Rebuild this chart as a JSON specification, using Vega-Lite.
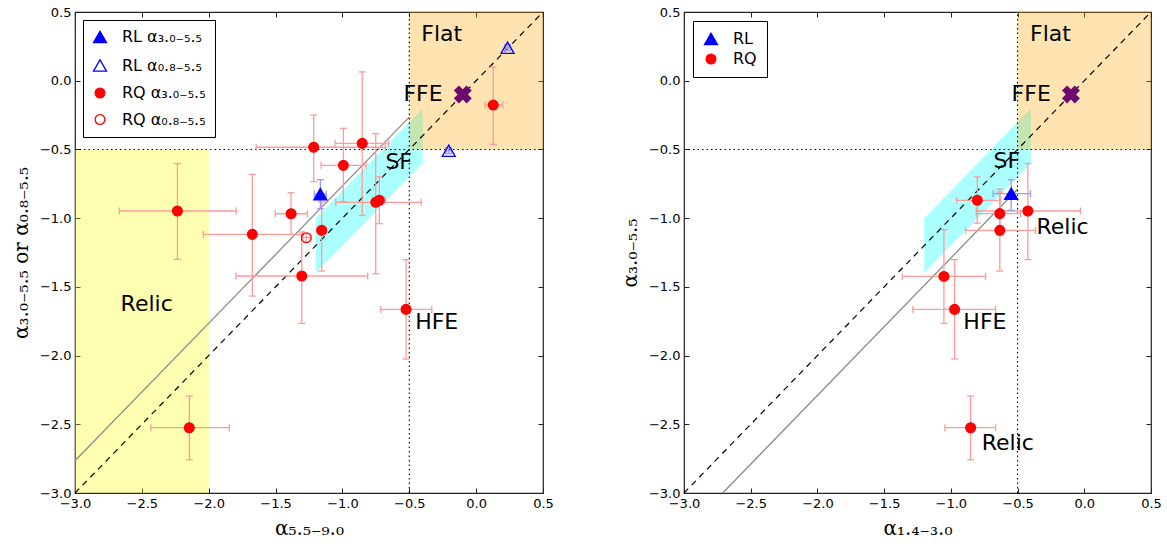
{
"$schema":"https://vega.github.io/schema/vega-lite/v6.json",
"background":"white",
"padding":{"left":10,"top":5,"right":5,"bottom":5},
"spacing":65,
"datasets":{
"pts":[
{"panel":"L","series":"RL α₃.₀₋₅.₅","grp":"RL","x":-1.165,"y":-0.825,"xlo":-1.21,"xhi":-1.12,"ylo":-0.93,"yhi":-0.72},
{"panel":"L","series":"RL α₀.₈₋₅.₅","grp":"RL","x":0.235,"y":0.24,"xlo":0.215,"xhi":0.255,"ylo":0.22,"yhi":0.26},
{"panel":"L","series":"RL α₀.₈₋₅.₅","grp":"RL","x":-0.205,"y":-0.51,"xlo":-0.225,"xhi":-0.185,"ylo":-0.53,"yhi":-0.49},
{"panel":"L","series":"RQ α₃.₀₋₅.₅","grp":"RQ","x":-2.234,"y":-0.948,"xlo":-2.668,"xhi":-1.795,"ylo":-1.3,"yhi":-0.603},
{"panel":"L","series":"RQ α₃.₀₋₅.₅","grp":"RQ","x":-1.674,"y":-1.118,"xlo":-2.04,"xhi":-1.293,"ylo":-1.567,"yhi":-0.681},
{"panel":"L","series":"RQ α₃.₀₋₅.₅","grp":"RQ","x":-1.384,"y":-0.968,"xlo":-1.502,"xhi":-1.262,"ylo":-1.12,"yhi":-0.815},
{"panel":"L","series":"RQ α₃.₀₋₅.₅","grp":"RQ","x":-1.215,"y":-0.484,"xlo":-1.645,"xhi":-0.68,"ylo":-0.735,"yhi":-0.25},
{"panel":"L","series":"RQ α₃.₀₋₅.₅","grp":"RQ","x":-0.993,"y":-0.616,"xlo":-1.16,"xhi":-0.822,"ylo":-0.88,"yhi":-0.347},
{"panel":"L","series":"RQ α₃.₀₋₅.₅","grp":"RQ","x":-0.852,"y":-0.456,"xlo":-1.055,"xhi":-0.655,"ylo":-0.98,"yhi":0.064},
{"panel":"L","series":"RQ α₃.₀₋₅.₅","grp":"RQ","x":-0.751,"y":-0.885,"xlo":-1.05,"xhi":-0.41,"ylo":-1.404,"yhi":-0.385},
{"panel":"L","series":"RQ α₃.₀₋₅.₅","grp":"RQ","x":-0.724,"y":-0.87,"xlo":-0.77,"xhi":-0.68,"ylo":-1.04,"yhi":-0.7},
{"panel":"L","series":"RQ α₃.₀₋₅.₅","grp":"RQ","x":-1.155,"y":-1.089,"xlo":-1.19,"xhi":-1.12,"ylo":-1.385,"yhi":-0.883},
{"panel":"L","series":"RQ α₃.₀₋₅.₅","grp":"RQ","x":-1.304,"y":-1.421,"xlo":-1.796,"xhi":-0.811,"ylo":-1.766,"yhi":-1.101},
{"panel":"L","series":"RQ α₃.₀₋₅.₅","grp":"RQ","x":-0.524,"y":-1.664,"xlo":-0.713,"xhi":-0.332,"ylo":-2.025,"yhi":-1.302},
{"panel":"L","series":"RQ α₃.₀₋₅.₅","grp":"RQ","x":-2.145,"y":-2.525,"xlo":-2.432,"xhi":-1.846,"ylo":-2.758,"yhi":-2.295},
{"panel":"L","series":"RQ α₃.₀₋₅.₅","grp":"RQ","x":0.128,"y":-0.177,"xlo":0.066,"xhi":0.199,"ylo":-0.463,"yhi":0.1},
{"panel":"L","series":"RQ α₀.₈₋₅.₅","grp":"RQ","x":-1.27,"y":-1.142,"xlo":-1.3,"xhi":-1.24,"ylo":-1.172,"yhi":-1.112},
{"panel":"R","series":"RL","grp":"RL","x":-0.548,"y":-0.822,"xlo":-0.683,"xhi":-0.403,"ylo":-0.943,"yhi":-0.72},
{"panel":"R","series":"RQ","grp":"RQ","x":-0.802,"y":-0.87,"xlo":-0.957,"xhi":-0.628,"ylo":-1.036,"yhi":-0.7},
{"panel":"R","series":"RQ","grp":"RQ","x":-0.633,"y":-0.967,"xlo":-0.802,"xhi":-0.478,"ylo":-1.12,"yhi":-0.81},
{"panel":"R","series":"RQ","grp":"RQ","x":-0.633,"y":-1.089,"xlo":-0.89,"xhi":-0.366,"ylo":-1.385,"yhi":-0.79},
{"panel":"R","series":"RQ","grp":"RQ","x":-0.423,"y":-0.948,"xlo":-0.81,"xhi":-0.029,"ylo":-1.302,"yhi":-0.603},
{"panel":"R","series":"RQ","grp":"RQ","x":-1.052,"y":-1.424,"xlo":-1.364,"xhi":-0.74,"ylo":-1.766,"yhi":-1.084},
{"panel":"R","series":"RQ","grp":"RQ","x":-0.972,"y":-1.664,"xlo":-1.285,"xhi":-0.665,"ylo":-2.025,"yhi":-1.302},
{"panel":"R","series":"RQ","grp":"RQ","x":-0.852,"y":-2.525,"xlo":-1.045,"xhi":-0.665,"ylo":-2.758,"yhi":-2.295}
],
"band":[
{"panel":"L","x":-1.2,"lo":-1.4,"hi":-1.0},{"panel":"L","x":-0.4,"lo":-0.6,"hi":-0.2},
{"panel":"R","x":-1.2,"lo":-1.4,"hi":-1.0},{"panel":"R","x":-0.4,"lo":-0.6,"hi":-0.2}
],
"regions":[
{"panel":"L","kind":"yellow","x1":-3,"x2":-2,"y1":-3,"y2":-0.5},
{"panel":"L","kind":"orange","x1":-0.5,"x2":0.5,"y1":-0.5,"y2":0.5},
{"panel":"R","kind":"orange","x1":-0.5,"x2":0.5,"y1":-0.5,"y2":0.5}
],
"lines":[
{"panel":"L","kind":"one2one","x1":-3,"y1":-3,"x2":0.5,"y2":0.5},
{"panel":"L","kind":"fit","x1":-3,"y1":-2.765,"x2":-0.5,"y2":-0.265},
{"panel":"L","kind":"dot","x1":-3,"y1":-0.5,"x2":0.5,"y2":-0.5},
{"panel":"L","kind":"dot","x1":-0.5,"y1":-3,"x2":-0.5,"y2":0.5},
{"panel":"R","kind":"one2one","x1":-3,"y1":-3,"x2":0.5,"y2":0.5},
{"panel":"R","kind":"fit","x1":-2.71,"y1":-3,"x2":-0.5,"y2":-0.79},
{"panel":"R","kind":"dot","x1":-3,"y1":-0.5,"x2":0.5,"y2":-0.5},
{"panel":"R","kind":"dot","x1":-0.5,"y1":-3,"x2":-0.5,"y2":0.5}
],
"labels":[
{"panel":"L","text":"Flat","x":-0.257,"y":0.343},
{"panel":"L","text":"FFE","x":-0.397,"y":-0.094},
{"panel":"L","text":"SF","x":-0.579,"y":-0.59},
{"panel":"L","text":"Relic","x":-2.464,"y":-1.622},
{"panel":"L","text":"HFE","x":-0.295,"y":-1.756},
{"panel":"R","text":"Flat","x":-0.253,"y":0.343},
{"panel":"R","text":"FFE","x":-0.398,"y":-0.094},
{"panel":"R","text":"SF","x":-0.58,"y":-0.587},
{"panel":"R","text":"Relic","x":-0.163,"y":-1.065},
{"panel":"R","text":"HFE","x":-0.745,"y":-1.756},
{"panel":"R","text":"Relic","x":-0.573,"y":-2.637}
],
"ffe":[{"panel":"L","x":-0.1,"y":-0.1},{"panel":"R","x":-0.1,"y":-0.1}]
},
"resolve":{"scale":{"color":"independent","fill":"independent","shape":"independent","size":"independent"},"legend":{"color":"independent","fill":"independent","shape":"independent","size":"independent"}},
"hconcat":[
{
"width":468,"height":481,
"resolve":{"axis":{"x":"independent","y":"independent"}},
"layer":[
{"data":{"name":"band"},"transform":[{"filter":"datum.panel=='L'"}],
 "mark":{"type":"area","color":"#00ffff","opacity":0.33},
 "encoding":{
  "x":{"field":"x","type":"quantitative","scale":{"domain":[-3,0.5],"nice":false,"zero":false},
       "axis":{"orient":"bottom","values":[-3,-2.5,-2,-1.5,-1,-0.5,0,0.5],"format":".1f","title":"α₅.₅₋₉.₀","labelFlush":false,"labelOverlap":false}},
  "y":{"field":"lo","type":"quantitative","scale":{"domain":[-3,0.5],"nice":false,"zero":false},
       "axis":{"orient":"left","values":[-3,-2.5,-2,-1.5,-1,-0.5,0,0.5],"format":".1f","title":"α₃.₀₋₅.₅ or α₀.₈₋₅.₅","labelFlush":false,"labelOverlap":false}},
  "y2":{"field":"hi"}}},
{"data":{"name":"regions"},"transform":[{"filter":"datum.panel=='L' && datum.kind=='yellow'"}],
 "mark":{"type":"rect","color":"#ffff00","opacity":0.3},
 "encoding":{"x":{"field":"x1","type":"quantitative","axis":null},"x2":{"field":"x2"},"y":{"field":"y1","type":"quantitative","axis":null},"y2":{"field":"y2"}}},
{"data":{"name":"regions"},"transform":[{"filter":"datum.panel=='L' && datum.kind=='orange'"}],
 "mark":{"type":"rect","color":"#ffa500","opacity":0.3},
 "encoding":{"x":{"field":"x1","type":"quantitative","axis":null},"x2":{"field":"x2"},"y":{"field":"y1","type":"quantitative","axis":null},"y2":{"field":"y2"}}},
{"data":{"name":"lines"},"transform":[{"filter":"datum.panel=='L' && datum.kind=='one2one'"}],
 "mark":{"type":"rule","color":"black","strokeDash":[6,5],"strokeWidth":1.2},
 "encoding":{"x":{"field":"x1","type":"quantitative","axis":null},"y":{"field":"y1","type":"quantitative","axis":null},"x2":{"field":"x2"},"y2":{"field":"y2"}}},
{"data":{"name":"lines"},"transform":[{"filter":"datum.panel=='L' && datum.kind=='fit'"}],
 "mark":{"type":"rule","color":"#8c8c8c","strokeWidth":1.3},
 "encoding":{"x":{"field":"x1","type":"quantitative","axis":null},"y":{"field":"y1","type":"quantitative","axis":null},"x2":{"field":"x2"},"y2":{"field":"y2"}}},
{"data":{"name":"lines"},"transform":[{"filter":"datum.panel=='L' && datum.kind=='dot'"}],
 "mark":{"type":"rule","color":"black","strokeDash":[1.5,3],"strokeWidth":1.1},
 "encoding":{"x":{"field":"x1","type":"quantitative","axis":null},"y":{"field":"y1","type":"quantitative","axis":null},"x2":{"field":"x2"},"y2":{"field":"y2"}}},
{"data":{"name":"pts"},"transform":[{"filter":"datum.panel=='L' && datum.grp=='RQ'"}],
 "layer":[
  {"mark":{"type":"rule","color":"#ff9a9a","strokeWidth":1.3},"encoding":{"x":{"field":"xlo","type":"quantitative","axis":null},"x2":{"field":"xhi"},"y":{"field":"y","type":"quantitative","axis":null}}},
  {"mark":{"type":"rule","color":"#ff9a9a","strokeWidth":1.3},"encoding":{"x":{"field":"x","type":"quantitative","axis":null},"y":{"field":"ylo","type":"quantitative","axis":null},"y2":{"field":"yhi"}}},
  {"mark":{"type":"tick","orient":"vertical","color":"#ff9a9a","size":7,"thickness":1.3,"opacity":1},"encoding":{"x":{"field":"xlo","type":"quantitative","axis":null},"y":{"field":"y","type":"quantitative","axis":null}}},
  {"mark":{"type":"tick","orient":"vertical","color":"#ff9a9a","size":7,"thickness":1.3,"opacity":1},"encoding":{"x":{"field":"xhi","type":"quantitative","axis":null},"y":{"field":"y","type":"quantitative","axis":null}}},
  {"mark":{"type":"tick","orient":"horizontal","color":"#ff9a9a","size":7,"thickness":1.3,"opacity":1},"encoding":{"x":{"field":"x","type":"quantitative","axis":null},"y":{"field":"ylo","type":"quantitative","axis":null}}},
  {"mark":{"type":"tick","orient":"horizontal","color":"#ff9a9a","size":7,"thickness":1.3,"opacity":1},"encoding":{"x":{"field":"x","type":"quantitative","axis":null},"y":{"field":"yhi","type":"quantitative","axis":null}}}
 ]},
{"data":{"name":"pts"},"transform":[{"filter":"datum.panel=='L' && datum.grp=='RL'"}],
 "layer":[
  {"mark":{"type":"rule","color":"#9a9aff","strokeWidth":1.3},"encoding":{"x":{"field":"xlo","type":"quantitative","axis":null},"x2":{"field":"xhi"},"y":{"field":"y","type":"quantitative","axis":null}}},
  {"mark":{"type":"rule","color":"#9a9aff","strokeWidth":1.3},"encoding":{"x":{"field":"x","type":"quantitative","axis":null},"y":{"field":"ylo","type":"quantitative","axis":null},"y2":{"field":"yhi"}}},
  {"mark":{"type":"tick","orient":"vertical","color":"#9a9aff","size":7,"thickness":1.3,"opacity":1},"encoding":{"x":{"field":"xlo","type":"quantitative","axis":null},"y":{"field":"y","type":"quantitative","axis":null}}},
  {"mark":{"type":"tick","orient":"vertical","color":"#9a9aff","size":7,"thickness":1.3,"opacity":1},"encoding":{"x":{"field":"xhi","type":"quantitative","axis":null},"y":{"field":"y","type":"quantitative","axis":null}}},
  {"mark":{"type":"tick","orient":"horizontal","color":"#9a9aff","size":7,"thickness":1.3,"opacity":1},"encoding":{"x":{"field":"x","type":"quantitative","axis":null},"y":{"field":"ylo","type":"quantitative","axis":null}}},
  {"mark":{"type":"tick","orient":"horizontal","color":"#9a9aff","size":7,"thickness":1.3,"opacity":1},"encoding":{"x":{"field":"x","type":"quantitative","axis":null},"y":{"field":"yhi","type":"quantitative","axis":null}}}
 ]},
{"data":{"name":"pts"},"transform":[{"filter":"datum.panel=='L'"}],
 "mark":{"type":"point","filled":false,"strokeWidth":1.3,"opacity":1},
 "encoding":{
  "x":{"field":"x","type":"quantitative","axis":null},
  "y":{"field":"y","type":"quantitative","axis":null},
  "shape":{"field":"series","type":"nominal","scale":{"domain":["RL α₃.₀₋₅.₅","RL α₀.₈₋₅.₅","RQ α₃.₀₋₅.₅","RQ α₀.₈₋₅.₅"],"range":["triangle-up","triangle-up","circle","circle"]},
    "legend":{"title":null,"orient":"top-left","offset":8,"padding":9,"strokeColor":"black","fillColor":"white","labelFontSize":16,"labelFont":"DejaVu Sans","labelColor":"black","rowPadding":10.5,"labelOffset":14,"symbolStrokeWidth":1.3}},
  "color":{"field":"series","type":"nominal","scale":{"domain":["RL α₃.₀₋₅.₅","RL α₀.₈₋₅.₅","RQ α₃.₀₋₅.₅","RQ α₀.₈₋₅.₅"],"range":["blue","blue","red","red"]},
    "legend":{"title":null,"orient":"top-left","offset":8,"padding":9,"strokeColor":"black","fillColor":"white","labelFontSize":16,"labelFont":"DejaVu Sans","labelColor":"black","rowPadding":10.5,"labelOffset":14,"symbolStrokeWidth":1.3}},
  "fill":{"field":"series","type":"nominal","scale":{"domain":["RL α₃.₀₋₅.₅","RL α₀.₈₋₅.₅","RQ α₃.₀₋₅.₅","RQ α₀.₈₋₅.₅"],"range":["blue","transparent","red","transparent"]},
    "legend":{"title":null,"orient":"top-left","offset":8,"padding":9,"strokeColor":"black","fillColor":"white","labelFontSize":16,"labelFont":"DejaVu Sans","labelColor":"black","rowPadding":10.5,"labelOffset":14,"symbolStrokeWidth":1.3}},
  "size":{"field":"series","type":"nominal","scale":{"type":"ordinal","domain":["RL α₃.₀₋₅.₅","RL α₀.₈₋₅.₅","RQ α₃.₀₋₅.₅","RQ α₀.₈₋₅.₅"],"range":[170,170,95,95]},
    "legend":{"title":null,"orient":"top-left","offset":8,"padding":9,"strokeColor":"black","fillColor":"white","labelFontSize":16,"labelFont":"DejaVu Sans","labelColor":"black","rowPadding":10.5,"labelOffset":14,"symbolStrokeWidth":1.3}}
 }},
{"data":{"name":"ffe"},"transform":[{"filter":"datum.panel=='L'"}],
 "mark":{"type":"point","shape":"cross","angle":45,"filled":true,"color":"#6d0a6d","size":330,"opacity":1},
 "encoding":{"x":{"field":"x","type":"quantitative","axis":null},"y":{"field":"y","type":"quantitative","axis":null}}},
{"data":{"name":"labels"},"transform":[{"filter":"datum.panel=='L'"}],
 "mark":{"type":"text","fontSize":22,"font":"DejaVu Sans","color":"black","align":"center","baseline":"middle"},
 "encoding":{"x":{"field":"x","type":"quantitative","axis":null},"y":{"field":"y","type":"quantitative","axis":null},"text":{"field":"text"}}},
{"data":{"name":"lines"},"transform":[{"filter":"datum.panel=='L' && datum.kind=='dot'"}],
 "mark":{"type":"rule","opacity":0},
 "encoding":{
  "x":{"field":"x1","type":"quantitative","axis":{"orient":"top","values":[-3,-2.5,-2,-1.5,-1,-0.5,0,0.5],"labels":false,"title":null}},
  "y":{"field":"y1","type":"quantitative","axis":{"orient":"right","values":[-3,-2.5,-2,-1.5,-1,-0.5,0,0.5],"labels":false,"title":null}},
  "x2":{"field":"x2"},"y2":{"field":"y2"}}}
]
},
{
"width":467,"height":481,
"resolve":{"axis":{"x":"independent","y":"independent"}},
"layer":[
{"data":{"name":"band"},"transform":[{"filter":"datum.panel=='R'"}],
 "mark":{"type":"area","color":"#00ffff","opacity":0.33},
 "encoding":{
  "x":{"field":"x","type":"quantitative","scale":{"domain":[-3,0.5],"nice":false,"zero":false},
       "axis":{"orient":"bottom","values":[-3,-2.5,-2,-1.5,-1,-0.5,0,0.5],"format":".1f","title":"α₁.₄₋₃.₀","labelFlush":false,"labelOverlap":false}},
  "y":{"field":"lo","type":"quantitative","scale":{"domain":[-3,0.5],"nice":false,"zero":false},
       "axis":{"orient":"left","values":[-3,-2.5,-2,-1.5,-1,-0.5,0,0.5],"format":".1f","title":"α₃.₀₋₅.₅","labelFlush":false,"labelOverlap":false}},
  "y2":{"field":"hi"}}},
{"data":{"name":"regions"},"transform":[{"filter":"datum.panel=='R' && datum.kind=='orange'"}],
 "mark":{"type":"rect","color":"#ffa500","opacity":0.3},
 "encoding":{"x":{"field":"x1","type":"quantitative","axis":null},"x2":{"field":"x2"},"y":{"field":"y1","type":"quantitative","axis":null},"y2":{"field":"y2"}}},
{"data":{"name":"lines"},"transform":[{"filter":"datum.panel=='R' && datum.kind=='one2one'"}],
 "mark":{"type":"rule","color":"black","strokeDash":[6,5],"strokeWidth":1.2},
 "encoding":{"x":{"field":"x1","type":"quantitative","axis":null},"y":{"field":"y1","type":"quantitative","axis":null},"x2":{"field":"x2"},"y2":{"field":"y2"}}},
{"data":{"name":"lines"},"transform":[{"filter":"datum.panel=='R' && datum.kind=='fit'"}],
 "mark":{"type":"rule","color":"#8c8c8c","strokeWidth":1.3},
 "encoding":{"x":{"field":"x1","type":"quantitative","axis":null},"y":{"field":"y1","type":"quantitative","axis":null},"x2":{"field":"x2"},"y2":{"field":"y2"}}},
{"data":{"name":"lines"},"transform":[{"filter":"datum.panel=='R' && datum.kind=='dot'"}],
 "mark":{"type":"rule","color":"black","strokeDash":[1.5,3],"strokeWidth":1.1},
 "encoding":{"x":{"field":"x1","type":"quantitative","axis":null},"y":{"field":"y1","type":"quantitative","axis":null},"x2":{"field":"x2"},"y2":{"field":"y2"}}},
{"data":{"name":"pts"},"transform":[{"filter":"datum.panel=='R' && datum.grp=='RQ'"}],
 "layer":[
  {"mark":{"type":"rule","color":"#ff9a9a","strokeWidth":1.3},"encoding":{"x":{"field":"xlo","type":"quantitative","axis":null},"x2":{"field":"xhi"},"y":{"field":"y","type":"quantitative","axis":null}}},
  {"mark":{"type":"rule","color":"#ff9a9a","strokeWidth":1.3},"encoding":{"x":{"field":"x","type":"quantitative","axis":null},"y":{"field":"ylo","type":"quantitative","axis":null},"y2":{"field":"yhi"}}},
  {"mark":{"type":"tick","orient":"vertical","color":"#ff9a9a","size":7,"thickness":1.3,"opacity":1},"encoding":{"x":{"field":"xlo","type":"quantitative","axis":null},"y":{"field":"y","type":"quantitative","axis":null}}},
  {"mark":{"type":"tick","orient":"vertical","color":"#ff9a9a","size":7,"thickness":1.3,"opacity":1},"encoding":{"x":{"field":"xhi","type":"quantitative","axis":null},"y":{"field":"y","type":"quantitative","axis":null}}},
  {"mark":{"type":"tick","orient":"horizontal","color":"#ff9a9a","size":7,"thickness":1.3,"opacity":1},"encoding":{"x":{"field":"x","type":"quantitative","axis":null},"y":{"field":"ylo","type":"quantitative","axis":null}}},
  {"mark":{"type":"tick","orient":"horizontal","color":"#ff9a9a","size":7,"thickness":1.3,"opacity":1},"encoding":{"x":{"field":"x","type":"quantitative","axis":null},"y":{"field":"yhi","type":"quantitative","axis":null}}}
 ]},
{"data":{"name":"pts"},"transform":[{"filter":"datum.panel=='R' && datum.grp=='RL'"}],
 "layer":[
  {"mark":{"type":"rule","color":"#9a9aff","strokeWidth":1.3},"encoding":{"x":{"field":"xlo","type":"quantitative","axis":null},"x2":{"field":"xhi"},"y":{"field":"y","type":"quantitative","axis":null}}},
  {"mark":{"type":"rule","color":"#9a9aff","strokeWidth":1.3},"encoding":{"x":{"field":"x","type":"quantitative","axis":null},"y":{"field":"ylo","type":"quantitative","axis":null},"y2":{"field":"yhi"}}},
  {"mark":{"type":"tick","orient":"vertical","color":"#9a9aff","size":7,"thickness":1.3,"opacity":1},"encoding":{"x":{"field":"xlo","type":"quantitative","axis":null},"y":{"field":"y","type":"quantitative","axis":null}}},
  {"mark":{"type":"tick","orient":"vertical","color":"#9a9aff","size":7,"thickness":1.3,"opacity":1},"encoding":{"x":{"field":"xhi","type":"quantitative","axis":null},"y":{"field":"y","type":"quantitative","axis":null}}},
  {"mark":{"type":"tick","orient":"horizontal","color":"#9a9aff","size":7,"thickness":1.3,"opacity":1},"encoding":{"x":{"field":"x","type":"quantitative","axis":null},"y":{"field":"ylo","type":"quantitative","axis":null}}},
  {"mark":{"type":"tick","orient":"horizontal","color":"#9a9aff","size":7,"thickness":1.3,"opacity":1},"encoding":{"x":{"field":"x","type":"quantitative","axis":null},"y":{"field":"yhi","type":"quantitative","axis":null}}}
 ]},
{"data":{"name":"pts"},"transform":[{"filter":"datum.panel=='R'"}],
 "mark":{"type":"point","filled":false,"strokeWidth":1.3,"opacity":1},
 "encoding":{
  "x":{"field":"x","type":"quantitative","axis":null},
  "y":{"field":"y","type":"quantitative","axis":null},
  "shape":{"field":"series","type":"nominal","scale":{"domain":["RL","RQ"],"range":["triangle-up","circle"]},
    "legend":{"title":null,"orient":"top-left","offset":9,"padding":10,"strokeColor":"black","fillColor":"white","labelFontSize":16,"labelFont":"DejaVu Sans","labelColor":"black","rowPadding":3,"labelOffset":14,"symbolStrokeWidth":1.3}},
  "color":{"field":"series","type":"nominal","scale":{"domain":["RL","RQ"],"range":["blue","red"]},
    "legend":{"title":null,"orient":"top-left","offset":9,"padding":10,"strokeColor":"black","fillColor":"white","labelFontSize":16,"labelFont":"DejaVu Sans","labelColor":"black","rowPadding":3,"labelOffset":14,"symbolStrokeWidth":1.3}},
  "fill":{"field":"series","type":"nominal","scale":{"domain":["RL","RQ"],"range":["blue","red"]},
    "legend":{"title":null,"orient":"top-left","offset":9,"padding":10,"strokeColor":"black","fillColor":"white","labelFontSize":16,"labelFont":"DejaVu Sans","labelColor":"black","rowPadding":3,"labelOffset":14,"symbolStrokeWidth":1.3}},
  "size":{"field":"series","type":"nominal","scale":{"type":"ordinal","domain":["RL","RQ"],"range":[170,95]},
    "legend":{"title":null,"orient":"top-left","offset":9,"padding":10,"strokeColor":"black","fillColor":"white","labelFontSize":16,"labelFont":"DejaVu Sans","labelColor":"black","rowPadding":3,"labelOffset":14,"symbolStrokeWidth":1.3}}
 }},
{"data":{"name":"ffe"},"transform":[{"filter":"datum.panel=='R'"}],
 "mark":{"type":"point","shape":"cross","angle":45,"filled":true,"color":"#6d0a6d","size":330,"opacity":1},
 "encoding":{"x":{"field":"x","type":"quantitative","axis":null},"y":{"field":"y","type":"quantitative","axis":null}}},
{"data":{"name":"labels"},"transform":[{"filter":"datum.panel=='R'"}],
 "mark":{"type":"text","fontSize":22,"font":"DejaVu Sans","color":"black","align":"center","baseline":"middle"},
 "encoding":{"x":{"field":"x","type":"quantitative","axis":null},"y":{"field":"y","type":"quantitative","axis":null},"text":{"field":"text"}}},
{"data":{"name":"lines"},"transform":[{"filter":"datum.panel=='R' && datum.kind=='dot'"}],
 "mark":{"type":"rule","opacity":0},
 "encoding":{
  "x":{"field":"x1","type":"quantitative","axis":{"orient":"top","values":[-3,-2.5,-2,-1.5,-1,-0.5,0,0.5],"labels":false,"title":null}},
  "y":{"field":"y1","type":"quantitative","axis":{"orient":"right","values":[-3,-2.5,-2,-1.5,-1,-0.5,0,0.5],"labels":false,"title":null}},
  "x2":{"field":"x2"},"y2":{"field":"y2"}}}
]
}
],
"config":{
 "view":{"stroke":"#222222","strokeWidth":1.2},
 "font":"DejaVu Sans",
 "axis":{"domain":false,"grid":false,"tickColor":"#222222","tickSize":-5,"tickWidth":1,"labelPadding":9,"labelFontSize":13,"labelFont":"DejaVu Sans","labelColor":"black","titleFont":"DejaVu Serif","titleFontSize":20,"titleFontWeight":"normal","titleColor":"black","titlePadding":8},
 "legend":{"symbolType":"circle"}
}
}
